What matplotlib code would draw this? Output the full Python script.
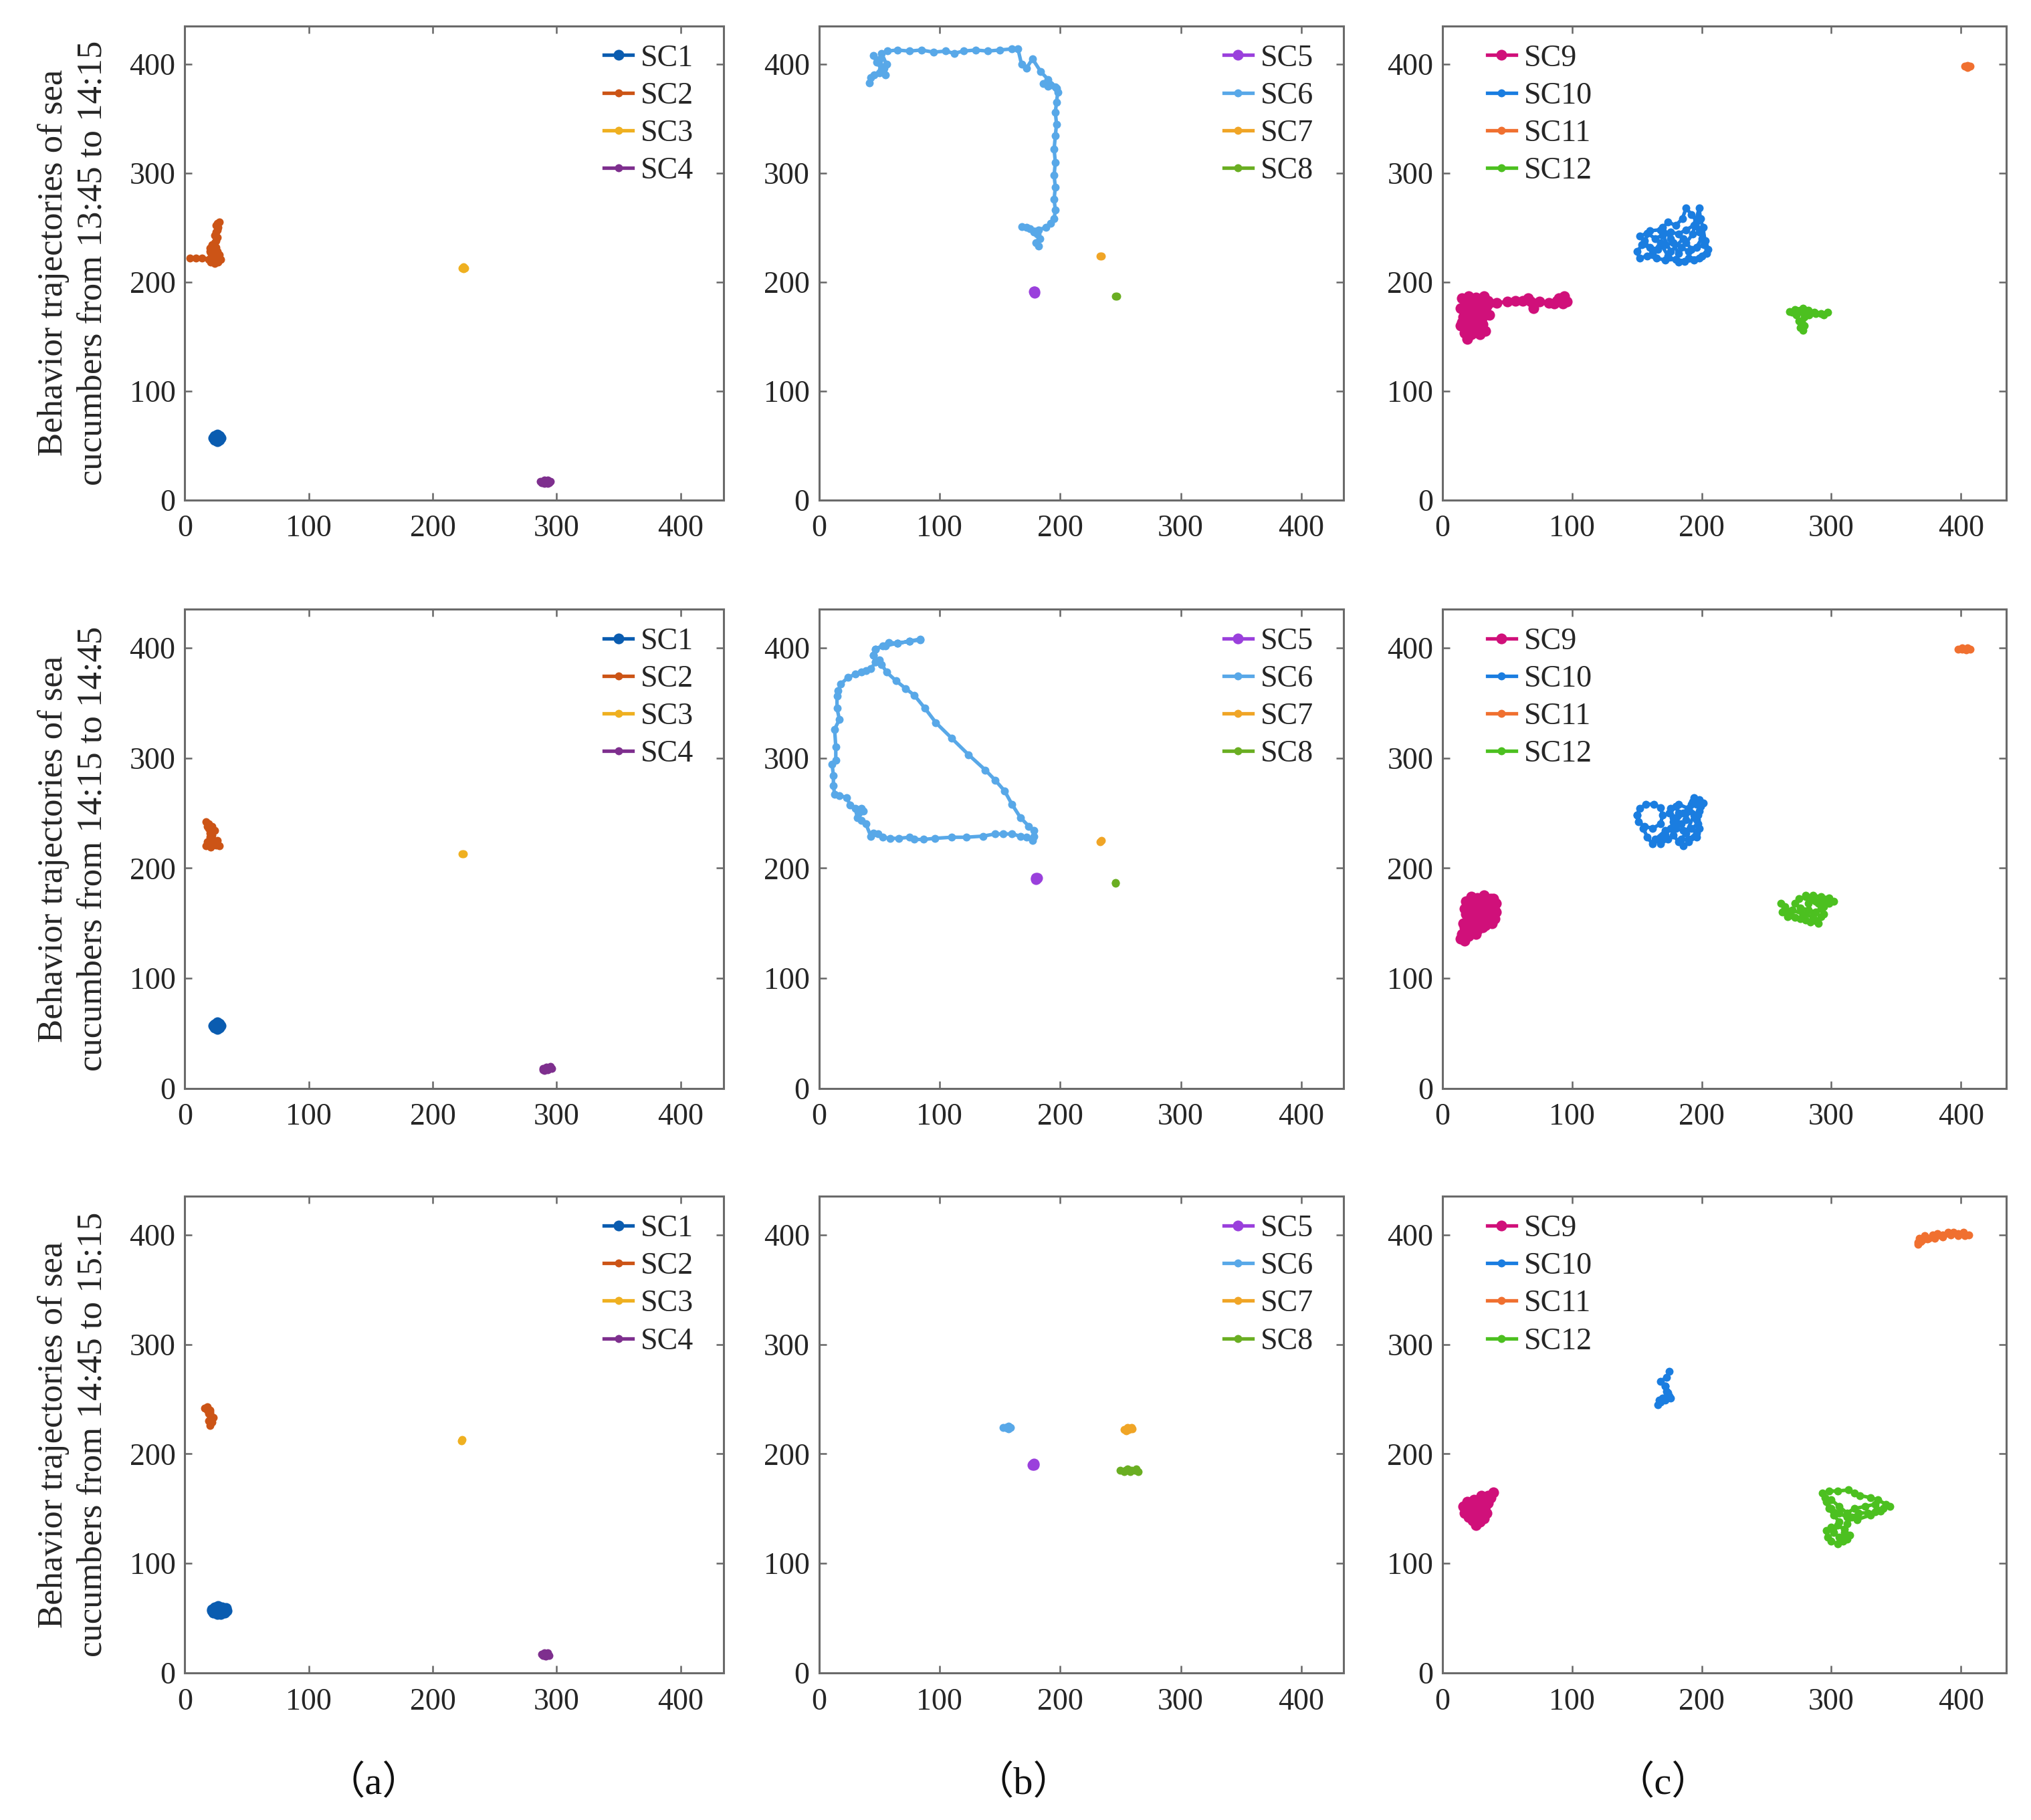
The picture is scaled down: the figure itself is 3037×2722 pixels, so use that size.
import numpy as np
import matplotlib
matplotlib.use("Agg")
import matplotlib.pyplot as plt

plt.rcParams['font.family'] = ['Liberation Serif', 'Noto Sans CJK TC']

# ---- trajectories, 13:45 to 14:15 ----
r1_sc1 = [(24,59),(26,60),(28,59),(29,57),(28,55),(26,54),(24,55),(23,57),(25,58),(27,57),(26,56),(25,57)]
r1_sc2 = [(4,222),(9,222),(14,222),(19,221),(21,218),(24,217),(27,218),(29,221),(28,225),(24,224),(21,227),
          (20,231),(22,234),(25,232),(26,228),(23,225),(21,222),(24,221),(27,223),(25,229),(24,236),(26,241),
          (25,246),(27,250),(26,254),(28,255),(25,252),(26,248),(24,243),(25,238),(23,232),(20,228),(22,220),
          (26,219),(28,222)]
r1_sc3 = [(224,213),(225,214),(226,213),(225,212)]
r1_sc4 = [(287,17),(290,18),(293,18),(295,17),(293,15),(290,15),(288,16),(291,17),(294,16)]
r1_sc5 = [(178,191),(179,191),(179,190)]
r1_sc6 = [(182,233),(180,236),(183,240),(181,244),(178,246),(172,250),(168,251),(175,249),(182,248),(188,250),
          (192,254),(195,258),(196,266),(195,276),(196,287),(195,298),(196,310),(195,322),(196,334),(197,345),
          (196,356),(197,365),(198,374),(196,379),(190,380),(186,382),(192,381),(197,378),(190,386),(184,393),
          (177,405),(172,396),(168,400),(165,414),(160,414),(150,413),(140,412),(130,413),(120,412),(112,410),
          (105,412),(95,411),(85,413),(75,412),(65,413),(57,412),(52,410),(56,400),(55,390),(52,395),(48,402),
          (45,408),(50,404),(54,396),(50,392),(46,390),(43,388),(42,383)]
r1_sc7 = [(233,224),(234,224)]
r1_sc8 = [(246,187),(247,187)]
r1_sc9 = [(15,185),(20,187),(26,186),(32,187),(35,183),(30,180),(24,182),(18,180),(14,176),(17,172),(22,175),
          (28,176),(33,173),(36,170),(31,168),(25,170),(19,167),(15,163),(18,158),(22,160),(27,163),(30,158),
          (26,154),(22,152),(19,148),(17,153),(20,156),(24,157),(29,152),(33,155),(31,161),(27,168),(21,171),
          (16,168),(14,160),(18,164),(24,166),(30,172),(34,178),(29,184),(22,184),(17,178),(23,178),(29,178),
          (36,181),(42,181),(50,182),(56,183),(62,183),(66,185),(70,176),(68,182),(75,182),(82,181),(86,180),
          (90,185),(94,187),(96,182),(93,180),(88,183)]
r1_sc10 = [(152,242),(158,245),(164,240),(170,243),(176,246),(182,244),(188,248),(194,252),(198,246),(203,238),
           (205,230),(200,224),(194,220),(187,219),(180,221),(172,220),(165,222),(158,224),(152,222),(150,228),
           (154,234),(160,232),(166,230),(172,234),(178,236),(184,232),(190,228),(196,232),(200,240),(196,256),
           (192,262),(188,268),(185,258),(180,252),(174,255),(170,250),(176,240),(182,226),(188,236),(193,244),
           (198,268),(199,258),(201,250),(204,226),(198,222),(190,222),(182,218),(174,224),(168,236),(162,226),
           (156,238),(160,247),(168,248),(176,228),(186,240),(192,230),(202,234)]
r1_sc11 = [(403,398),(405,399),(407,398),(405,397)]
r1_sc12 = [(268,173),(272,175),(278,176),(282,174),(287,172),(292,171),(297,172),(294,170),(288,171),(283,170),
           (279,168),(277,164),(279,160),(278,156),(276,158),(275,164),(273,170),(270,172),(276,173),(281,172)]

# ---- trajectories, 14:15 to 14:45 ----
r2_sc1 = [(24,58),(26,60),(28,59),(29,57),(28,55),(26,54),(24,55),(23,57),(25,59),(27,56)]
r2_sc2 = [(17,242),(18,238),(20,236),(19,240),(22,238),(24,234),(22,230),(20,228),(18,224),(17,220),(21,219),
          (24,222),(26,225),(28,220),(25,221),(22,226),(20,232),(19,236)]
r2_sc3 = [(224,213),(225,213)]
r2_sc4 = [(289,18),(292,19),(295,20),(296,18),(293,17),(290,16),(289,17),(292,18)]
r2_sc5 = [(180,190),(181,191),(180,191)]
r2_sc6 = [(84,407),(75,406),(65,404),(55,402),(47,399),(45,393),(47,387),(50,389),(52,385),(56,378),(64,370),
          (72,363),(79,357),(88,345),(97,332),(110,318),(124,303),(138,289),(146,280),(154,270),(160,258),
          (167,246),(174,238),(178,234),(178,229),(177,225),(172,228),(167,229),(160,231),(153,231),(146,231),
          (136,229),(122,228),(110,228),(96,227),(87,226),(79,226),(75,228),(66,227),(59,227),(53,228),(49,231),
          (45,232),(43,229),(39,240),(35,243),(32,246),(30,254),(35,254),(37,252),(33,250),(26,257),(23,264),
          (17,266),(13,267),(12,275),(12,284),(11,294),(14,298),(14,310),(13,326),(17,335),(15,345),(15,356),
          (16,361),(18,367),(24,373),(30,376),(35,378),(39,379),(43,381),(47,387),(45,393),(47,399),(53,402),
          (58,405),(65,404),(75,406),(84,408)]
r2_sc7 = [(233,224),(234,225)]
r2_sc8 = [(246,187),(246,186)]
r2_sc9 = [(18,170),(22,174),(27,173),(32,175),(37,172),(41,168),(40,162),(36,158),(40,154),(38,150),(33,148),
          (29,152),(25,156),(20,158),(17,163),(21,167),(26,166),(31,168),(36,166),(34,161),(29,160),(24,162),
          (20,150),(17,146),(15,140),(14,136),(17,134),(20,138),(23,142),(27,144),(31,146),(26,150),(22,154),
          (18,158),(24,168),(30,172),(35,170),(38,158),(33,154),(28,148),(22,146),(18,142),(16,150),(20,164),
          (28,169),(39,172),(41,160),(35,150),(26,140),(19,144)]
r2_sc10 = [(150,248),(152,254),(157,258),(163,258),(168,255),(170,248),(168,240),(162,236),(156,238),(151,242),
           (150,248),(155,236),(158,228),(162,222),(168,226),(172,230),(176,236),(178,242),(182,250),(180,256),
           (176,254),(178,246),(184,240),(188,244),(190,252),(192,258),(194,264),(196,258),(198,262),(201,259),
           (198,252),(196,244),(198,236),(196,228),(190,224),(186,220),(182,224),(178,230),(174,226),(168,222),
           (164,226),(172,234),(180,236),(186,234),(192,236),(197,240),(194,248),(188,232),(184,226),(190,226),
           (196,232),(199,256),(193,260),(186,250),(180,242),(175,250),(182,258),(190,254),(197,248)]
r2_sc11 = [(398,399),(401,399),(404,398),(407,399),(405,400),(401,400)]
r2_sc12 = [(261,168),(264,165),(262,160),(266,156),(272,155),(280,153),(288,152),(292,156),(288,160),(282,162),
           (276,164),(272,168),(275,172),(280,174),(286,175),(292,174),(298,173),(302,170),(298,168),(294,171),
           (290,168),(292,163),(294,158),(290,150),(284,151),(276,154),(268,157),(264,163),(270,162),(278,158),
           (286,156),(282,168),(288,170),(294,165),(280,175)]

# ---- trajectories, 14:45 to 15:15 ----
r3_sc1 = [(22,58),(24,60),(27,61),(30,60),(33,59),(34,57),(32,55),(29,54),(26,54),(23,55),(22,57),(26,57),
          (30,57),(28,58)]
r3_sc2 = [(16,242),(18,243),(20,240),(19,237),(21,235),(23,233),(22,229),(20,226),(19,230),(21,233),(20,238),
          (18,240)]
r3_sc3 = [(223,212),(224,213)]
r3_sc4 = [(288,17),(290,18),(293,18),(294,16),(291,15),(289,16)]
r3_sc5 = [(177,190),(178,191),(178,190)]
r3_sc6 = [(153,224),(155,224),(157,225),(159,224),(157,223),(155,224)]
r3_sc7 = [(253,222),(256,224),(259,224),(260,223),(257,222),(255,221)]
r3_sc8 = [(250,185),(253,184),(256,186),(259,185),(262,185),(265,184),(263,186),(258,184),(254,185)]
r3_sc9 = [(16,152),(19,156),(22,150),(25,154),(28,158),(30,162),(33,160),(35,155),(37,160),(39,165),(35,162),
          (33,152),(34,146),(32,141),(29,138),(26,135),(23,139),(20,142),(17,146),(18,150),(22,145),(26,142),
          (30,146),(27,150),(24,158),(29,155),(32,150),(28,143),(24,147),(20,154)]
r3_sc10 = [(175,275),(173,270),(168,266),(172,262),(173,257),(175,253),(176,251),(172,249),(168,247),(166,245),
           (167,249),(170,251),(174,256),(172,262)]
r3_sc11 = [(367,393),(368,397),(370,395),(372,399),(375,397),(378,400),(382,401),(386,400),(390,402),(394,402),
           (398,401),(402,402),(406,400),(403,399),(398,399),(392,400),(386,398),(380,397),(374,396),(369,394),
           (367,391)]
r3_sc12 = [(293,164),(298,166),(305,166),(313,167),(318,164),(322,162),(330,160),(336,158),(342,154),(345,152),
           (340,150),(334,147),(328,146),(321,146),(316,142),(312,136),(310,128),(309,120),(305,118),(300,120),
           (297,124),(296,130),(300,133),(305,135),(310,131),(314,126),(312,122),(306,124),(302,128),(306,138),
           (302,144),(298,150),(296,156),(300,158),(306,152),(312,146),(318,150),(326,152),(334,154),(338,148),
           (330,144),(320,140),(312,142),(306,146),(300,150),(295,160)]

group_a = ['SC1', 'SC2', 'SC3', 'SC4']
group_b = ['SC5', 'SC6', 'SC7', 'SC8']
group_c = ['SC9', 'SC10', 'SC11', 'SC12']
colors = {'SC1': '#0a5cb0', 'SC2': '#cc5416', 'SC3': '#efb020', 'SC4': '#7e2f8e',
          'SC5': '#9a40dc', 'SC6': '#58a8e8', 'SC7': '#f0a526', 'SC8': '#6aae22',
          'SC9': '#d0107a', 'SC10': '#1a7de0', 'SC11': '#f07030', 'SC12': '#4cc020'}

row_labels = ['Behavior trajectories of sea\ncucumbers from 13:45 to 14:15',
              'Behavior trajectories of sea\ncucumbers from 14:15 to 14:45',
              'Behavior trajectories of sea\ncucumbers from 14:45 to 15:15']
col_labels = ['（a）', '（b）', '（c）']

rows = [
    [[r1_sc1, r1_sc2, r1_sc3, r1_sc4], [r1_sc5, r1_sc6, r1_sc7, r1_sc8], [r1_sc9, r1_sc10, r1_sc11, r1_sc12]],
    [[r2_sc1, r2_sc2, r2_sc3, r2_sc4], [r2_sc5, r2_sc6, r2_sc7, r2_sc8], [r2_sc9, r2_sc10, r2_sc11, r2_sc12]],
    [[r3_sc1, r3_sc2, r3_sc3, r3_sc4], [r3_sc5, r3_sc6, r3_sc7, r3_sc8], [r3_sc9, r3_sc10, r3_sc11, r3_sc12]],
]
groups = [group_a, group_b, group_c]

# axes boxes, measured on a 1560 x 1398 view of the figure
col_x = [(142, 556), (629, 1032), (1108, 1541)]
row_y = [(20, 384), (468, 836), (919, 1285)]
W, H = 1560.0, 1398.0

fig = plt.figure(figsize=(15.185, 13.61), dpi=200)

for i in range(3):
    for j in range(3):
        l, r = col_x[j]
        t, b = row_y[i]
        ax = fig.add_axes([l / W, 1 - b / H, (r - l) / W, (b - t) / H])
        for k, name in enumerate(groups[j]):
            pts = np.array(rows[i][j][k])
            ax.plot(pts[:, 0], pts[:, 1], '-o', color=colors[name], lw=1.9,
                    ms=5.8 if k == 0 else 4.3, mec='none', label=name)
        ax.set_xlim(0, 435)
        ax.set_ylim(0, 435)
        ax.set_xticks([0, 100, 200, 300, 400])
        ax.set_yticks([0, 100, 200, 300, 400])
        ax.tick_params(direction='in', length=4, width=0.9, colors='#666666',
                       labelcolor='#262626', labelsize=16.5, top=True, right=True)
        ax.tick_params(axis='x', pad=8)
        ax.tick_params(axis='y', pad=5)
        for s in ax.spines.values():
            s.set_color('#6a6a6a')
            s.set_linewidth(1.1)
        if j == 2:
            leg = ax.legend(loc='upper left', bbox_to_anchor=(0.03, 1.02), fontsize=16.5,
                            handlelength=0.95, handletextpad=0.25, labelspacing=0.3, frameon=False)
        else:
            leg = ax.legend(loc='upper right', bbox_to_anchor=(0.995, 1.02), fontsize=16.5,
                            handlelength=0.95, handletextpad=0.25, labelspacing=0.3, frameon=False)
        for txt in leg.get_texts():
            txt.set_color('#262626')
        if j == 0:
            fig.text(0.036, 1 - (t + b) / 2 / H, row_labels[i], rotation=90, ha='center', va='center',
                     multialignment='center', fontsize=19, linespacing=1.3, color='#262626')

label_x = [0.184, 0.504, 0.819]
for j in range(3):
    fig.text(label_x[j], 0.02, col_labels[j], ha='center', va='center', fontsize=21, color='#111111')

fig.savefig('out.png', dpi=200)
